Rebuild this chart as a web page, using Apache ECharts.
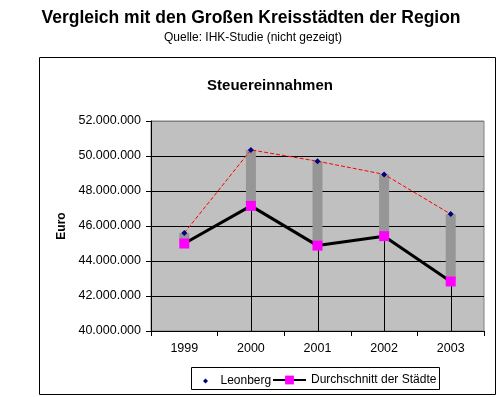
<!DOCTYPE html>
<html>
<head>
<meta charset="utf-8">
<script src="https://cdn.jsdelivr.net/npm/echarts@6/dist/echarts.min.js"></script>
<style>
  html, body {margin: 0; padding: 0; background: #fff;}
  #chart {width: 497px; height: 397px;}
</style>
</head>
<body>
<div id="chart"></div>
<script>
const years = ['1999', '2000', '2001', '2002', '2003'];
const leonberg = [45600000, 50350000, 49700000, 48950000, 46680000];
const durchschnitt = [45000000, 47150000, 44880000, 45420000, 42830000];
// Lotlinien: bei 1999 im Original nicht sichtbar
const dropLines = [null, 47150000, 44880000, 45420000, 42830000];
const yMin = 40000000;
const yMax = 52000000;
const yStep = 2000000;

const font = '"Liberation Sans", Arial, sans-serif';

function fmt(val) {
  return String(val).replace(/\B(?=(\d{3})+(?!\d))/g, '.');
}

const chart = echarts.init(document.getElementById('chart'));
chart.setOption({
  animation: false,
  textStyle: {fontFamily: font, color: '#000'},
  title: [{
    text: 'Vergleich mit den Großen Kreisstädten der Region',
    left: 246, top: 4, textAlign: 'center',
    textStyle: {fontSize: 17.5, fontWeight: 'bold', color: '#000', fontFamily: font}
  }, {
    text: 'Quelle: IHK-Studie (nicht gezeigt)',
    left: 248, top: 27, textAlign: 'center',
    textStyle: {fontSize: 12, fontWeight: 'normal', color: '#000', fontFamily: font}
  }, {
    text: 'Steuereinnahmen',
    left: 265, top: 73, textAlign: 'center',
    textStyle: {fontSize: 15, fontWeight: 'bold', color: '#000', fontFamily: font}
  }],
  graphic: [{
    type: 'rect',
    shape: {x: 39.5, y: 57.5, width: 456, height: 337},
    style: {fill: 'none', stroke: '#000', lineWidth: 1},
    z: -10
  }, {
    type: 'rect',
    shape: {x: 191.5, y: 367.5, width: 248, height: 22},
    style: {fill: '#fff', stroke: '#000', lineWidth: 1},
    z: -5
  }],
  legend: [{
    data: [{name: 'Leonberg', icon: 'path://M0,-1L1,0L0,1L-1,0Z'}],
    left: 198, top: 370,
    itemWidth: 20, itemHeight: 5,
    textStyle: {fontSize: 12, color: '#000', fontFamily: font}
  }, {
    data: ['Durchschnitt der Städte'],
    left: 267, top: 369,
    itemWidth: 33, itemHeight: 11,
    textStyle: {fontSize: 12, color: '#000', fontFamily: font}
  }],
  grid: {
    left: 151, top: 121, right: 13, bottom: 66,
    show: true, backgroundColor: '#C0C0C0', borderColor: '#808080', borderWidth: 1
  },
  xAxis: {
    type: 'category',
    data: years,
    boundaryGap: true,
    axisLine: {lineStyle: {color: '#000', width: 1}},
    axisTick: {show: true, length: 5, lineStyle: {color: '#000'}},
    axisLabel: {fontSize: 12.5, color: '#000', margin: 11, fontFamily: font},
    splitLine: {show: false}
  },
  yAxis: {
    type: 'value',
    min: yMin, max: yMax, interval: yStep,
    name: 'Euro',
    nameLocation: 'middle',
    nameGap: 81,
    nameRotate: 90,
    nameTextStyle: {fontSize: 12, fontWeight: 'bold', color: '#000', fontFamily: font},
    axisLine: {show: true, lineStyle: {color: '#000', width: 1}},
    axisTick: {show: true, length: 5, lineStyle: {color: '#000'}},
    axisLabel: {fontSize: 12.5, color: '#000', margin: 10, fontFamily: font, formatter: fmt},
    splitLine: {
      show: true,
      lineStyle: {color: ['#000', '#000', '#000', '#000', '#000', '#000', '#808080'], width: 1}
    }
  },
  series: [{
    name: 'Spanne',
    type: 'custom',
    z: 1,
    data: years.map((y, i) => [i, leonberg[i], durchschnitt[i]]),
    renderItem(params, api) {
      const p1 = api.coord([api.value(0), api.value(1)]);
      const p2 = api.coord([api.value(0), api.value(2)]);
      return {
        type: 'rect',
        shape: {x: p1[0] - 5, y: p1[1], width: 10, height: p2[1] - p1[1]},
        style: {fill: '#969696'}
      };
    }
  }, {
    name: 'Lot',
    type: 'custom',
    z: 1,
    data: years.map((y, i) => [i, dropLines[i]]),
    renderItem(params, api) {
      if (dropLines[params.dataIndex] == null) return null;
      const p1 = api.coord([api.value(0), api.value(1)]);
      const p2 = api.coord([api.value(0), yMin]);
      return {
        type: 'line',
        shape: {x1: Math.round(p1[0]) + 0.5, y1: p1[1], x2: Math.round(p1[0]) + 0.5, y2: p2[1]},
        style: {stroke: '#000', lineWidth: 1}
      };
    }
  }, {
    name: 'Leonberg',
    type: 'line',
    z: 3,
    data: leonberg,
    symbol: 'diamond',
    symbolSize: 6,
    itemStyle: {color: '#000080'},
    lineStyle: {color: '#FF0000', width: 1, type: [4, 2]}
  }, {
    name: 'Durchschnitt der Städte',
    type: 'line',
    z: 4,
    data: durchschnitt,
    symbol: 'rect',
    symbolSize: 10,
    itemStyle: {color: '#FF00FF'},
    lineStyle: {color: '#000', width: 3}
  }]
});
</script>
</body>
</html>
